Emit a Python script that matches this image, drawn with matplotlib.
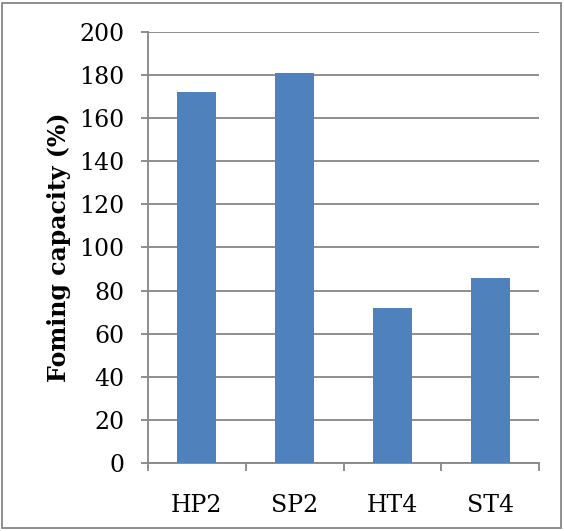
import matplotlib.pyplot as plt
from matplotlib.patches import Rectangle

samples = ["HP2", "SP2", "HT4", "ST4"]
foaming = [172, 181, 72, 86]
yticks = [0, 20, 40, 60, 80, 100, 120, 140, 160, 180, 200]

plt.rcParams['font.family'] = ['DejaVu Serif']
grid_col = '#868686'

fig = plt.figure(figsize=(5.64, 5.31), dpi=100)
ax = fig.add_axes([0.2624, 0.1281, 0.6933, 0.8117])

x = list(range(len(samples)))
ax.bar(x, foaming, width=0.4, color='#4F81BD', zorder=3)

ax.set_xlim(-0.5, len(samples) - 0.5)
ax.set_ylim(0, 200)
ax.set_yticks(yticks)
ax.set_xticks(x)
ax.set_xticklabels(samples)
ax.set_xticks([i - 0.5 for i in range(len(samples) + 1)], minor=True)

ax.grid(axis='y', color=grid_col, linewidth=1.3, zorder=0)
for side in ['top', 'right']:
    ax.spines[side].set_visible(False)
for side in ['left', 'bottom']:
    ax.spines[side].set_color(grid_col)
    ax.spines[side].set_linewidth(1.3)

ax.tick_params(axis='y', length=5, width=1.3, color=grid_col, labelsize=17, pad=12)
ax.tick_params(axis='x', which='major', length=0, labelsize=17, pad=22)
ax.tick_params(axis='x', which='minor', length=6, width=1.3, color=grid_col)

ax.set_ylabel('Foming capacity (%)', fontsize=17, fontweight='bold', labelpad=6)

# outer chart border
fig.patches.append(Rectangle((2 / 564, 3 / 531), 559 / 564, 525 / 531,
                             transform=fig.transFigure, fill=False,
                             edgecolor=grid_col, linewidth=1.3))

fig.savefig('out.png', dpi=100)
